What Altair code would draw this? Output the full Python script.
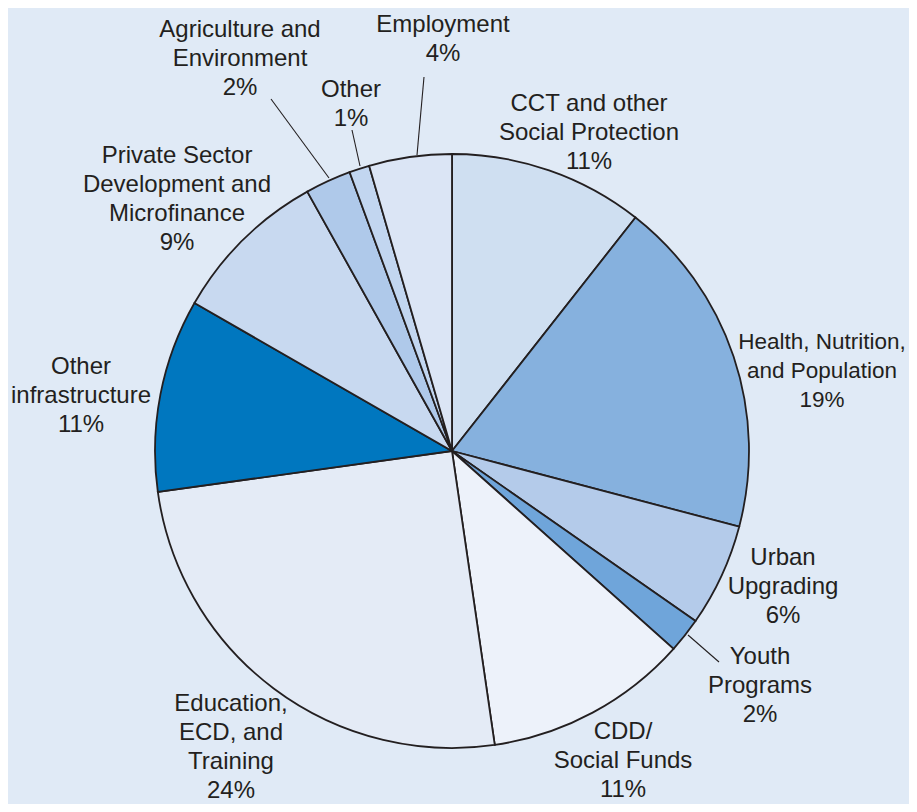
import altair as alt
import pandas as pd

# ---- data ----
categories = [
    "CCT and other\nSocial Protection",
    "Health, Nutrition,\nand Population",
    "Urban\nUpgrading",
    "Youth\nPrograms",
    "CDD/\nSocial Funds",
    "Education,\nECD, and\nTraining",
    "Other\ninfrastructure",
    "Private Sector\nDevelopment and\nMicrofinance",
    "Agriculture and\nEnvironment",
    "Other",
    "Employment",
]
shares = [10.6, 18.5, 5.6, 1.9, 11.1, 25.1, 10.5, 8.6, 2.5, 1.1, 4.5]
pct_labels = ["11%", "19%", "6%", "2%", "11%", "24%", "11%", "9%", "2%", "1%", "4%"]

# ---- styling / layout ----
colors = ["#cfdff1", "#86b1de", "#b4cbea", "#6fa5da", "#edf2fa", "#e4ebf6",
          "#0077bf", "#c8d9f0", "#afc9ea", "#c2d6f0", "#dbe5f5"]
OX, OY = 8, 8  # page margin offset
label_x = [589, 822, 783, 760, 623, 231, 81, 177, 240, 351, 443]
label_y = [111, 349, 565, 664, 739, 711, 374, 163, 37, 97, 32]
label_size = [24, 22.5, 24, 24, 24, 24, 24, 24, 24, 24, 24]
leader_from = [(424, 77), (352, 130), (271, 99), (719, 662)]
leader_to = [(417, 155), (360, 166), (329, 178), (688, 635)]

BG = "#e0eaf6"
INK = "#231f20"

slices = pd.DataFrame({
    "cat": categories,
    "value": shares,
    "idx": list(range(len(shares))),
})
labels = pd.DataFrame({
    "text": [c + "\n" + p for c, p in zip(categories, pct_labels)],
    "lx": [x - OX for x in label_x],
    "ly": [y - OY for y in label_y],
    "fs": label_size,
})
leaders = pd.DataFrame({
    "x": [a[0] - OX for a in leader_from],
    "y": [a[1] - OY for a in leader_from],
    "x2": [b[0] - OX for b in leader_to],
    "y2": [b[1] - OY for b in leader_to],
})

pie = alt.Chart(slices).mark_arc(radius=297, stroke=INK, strokeWidth=1.8).encode(
    theta=alt.Theta("value:Q", stack=True),
    color=alt.Color("cat:N", scale=alt.Scale(domain=categories, range=colors), legend=None),
    order=alt.Order("idx:Q", sort="ascending"),
    x=alt.value(452 - OX),
    y=alt.value(451 - OY),
)

text = alt.Chart(labels).mark_text(
    font="Liberation Sans", lineBreak="\n", lineHeight=29,
    align="center", baseline="alphabetic", color=INK,
).encode(
    x=alt.X("lx:Q", scale=None, axis=None),
    y=alt.Y("ly:Q", scale=None, axis=None),
    size=alt.Size("fs:Q", scale=None, legend=None),
    text="text:N",
)

lines = alt.Chart(leaders).mark_rule(color=INK, strokeWidth=1.1).encode(
    x=alt.X("x:Q", scale=None, axis=None),
    y=alt.Y("y:Q", scale=None, axis=None),
    x2="x2:Q",
    y2="y2:Q",
)

chart = alt.layer(pie, lines, text).properties(
    width=901, height=796, background=BG, padding=0,
    autosize=alt.AutoSizeParams(type="none"),
).configure_view(stroke=None)

chart.save("out.html", embed_options={"renderer": "svg", "actions": False})
